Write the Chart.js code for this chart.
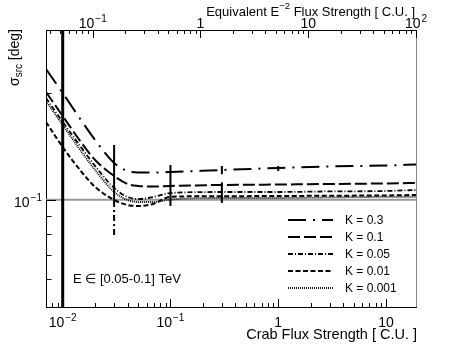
<!DOCTYPE html>
<html>
<head>
<meta charset="utf-8">
<script src="https://cdn.jsdelivr.net/npm/chart.js@4.4.1/dist/chart.umd.min.js"></script>
<style>
  html, body { margin: 0; padding: 0; background: #fff; }
  #wrap { width: 463px; height: 346px; }
</style>
</head>
<body>
<div id="wrap"><canvas id="chart" width="463" height="346"></canvas></div>
<script>
// Crab flux points (C.U.) where sigma_src was evaluated
const crabFlux = [0.007, 0.01, 0.015, 0.02, 0.03, 0.04, 0.05, 0.07, 0.1, 0.3, 1, 3, 10, 19];

// sigma_src [deg] for each systematic factor K
const sigmaK0300 = [0.2331, 0.1996, 0.1665, 0.1472, 0.1269, 0.1205, 0.1194, 0.1194, 0.1197, 0.1213, 0.1229, 0.1241, 0.1249, 0.1257];
const sigmaK0100 = [0.2009, 0.1720, 0.1444, 0.1294, 0.1167, 0.1108, 0.1094, 0.1090, 0.1094, 0.1101, 0.1104, 0.1108, 0.1112, 0.1115];
const sigmaK0050 = [0.1933, 0.1655, 0.1398, 0.1245, 0.1080, 0.1019, 0.1005, 0.1019, 0.1045, 0.1052, 0.1052, 0.1056, 0.1059, 0.1066];
const sigmaK0010 = [0.1655, 0.1407, 0.1197, 0.1087, 0.0999, 0.0967, 0.0961, 0.0975, 0.1020, 0.1024, 0.1025, 0.1027, 0.1029, 0.1032];
const sigmaK0001 = [0.1895, 0.1623, 0.1363, 0.1213, 0.1052, 0.0999, 0.0986, 0.0986, 0.1002, 0.1012, 0.1012, 0.1016, 0.1019, 0.1019];

const seriesLabels = ['K = 0.3', 'K = 0.1', 'K = 0.05', 'K = 0.01', 'K = 0.001'];

// vertical error bars: flux, low, high
const barFlux = [0.01, 0.03, 0.1, 0.3, 0.3, 1];
const barLow  = [0.04, 0.0961, 0.0961, 0.098, 0.118, 0.1205];
const barHigh = [0.40, 0.1426, 0.1253, 0.112, 0.1245, 0.1245];
// dash-dot lower part of the 0.03 bar
const tailFlux = [0.03];
const tailLow  = [0.0797];
const tailHigh = [0.0961];

const refSigma = 0.1;
const bottomLabels = [0.01, 0.1, 1, 10];
const topLabels = [0.1, 1, 10, 100];
const eqFactor = 100 / 19;   // Crab -> equivalent E^-2 flux

const FONT = '"Liberation Sans", Arial, Helvetica, sans-serif';

const styles = [
    { dash: [18, 7, 2, 7], width: 2 },
    { dash: [12, 4], width: 2 },
    { dash: [5, 2, 1, 2], width: 1.8 },
    { dash: [5, 2.5], width: 2 },
    { dash: [1, 1], width: 1.8 }
];

const allSeries = [sigmaK0300, sigmaK0100, sigmaK0050, sigmaK0010, sigmaK0001];

const curveSets = allSeries.map((vals, i) => ({
    label: seriesLabels[i],
    data: crabFlux.map((f, j) => ({ x: f, y: vals[j] })),
    showLine: true,
    borderColor: '#000',
    borderWidth: styles[i].width,
    borderDash: styles[i].dash,
    pointRadius: 0,
    cubicInterpolationMode: 'monotone',
    fill: false
}));

const barSets = barFlux.map((f, i) => ({
    label: 'bar',
    data: [{ x: f, y: barLow[i] }, { x: f, y: barHigh[i] }],
    showLine: true,
    borderColor: '#000',
    borderWidth: i === 0 ? 3 : 2,
    pointRadius: 0
}));

const tailSets = tailFlux.map((f, i) => ({
    label: 'bar',
    data: [{ x: f, y: tailLow[i] }, { x: f, y: tailHigh[i] }],
    showLine: true,
    borderColor: '#000',
    borderWidth: 2,
    borderDash: [6, 3, 2, 3],
    pointRadius: 0
}));

function logTicks(min, max) {
    const out = [];
    for (let e = Math.floor(Math.log10(min)); e <= Math.ceil(Math.log10(max)); e++) {
        for (let m = 1; m <= 9; m++) {
            const v = m * Math.pow(10, e);
            if (v >= min * 0.999 && v <= max * 1.001) out.push({ v, major: m === 1 });
        }
    }
    return out;
}

function powParts(v) {
    const e = Math.round(Math.log10(v));
    if (e === 0) return ['1', ''];
    if (e === 1) return ['10', ''];
    return ['10', e < 0 ? '\u2212' + (-e) : String(e)];
}

// draws base + superscript, align: 'center' | 'right'
function drawPow(ctx, base, sup, x, y, align) {
    ctx.font = '14px ' + FONT;
    const wb = ctx.measureText(base).width;
    ctx.font = '10px ' + FONT;
    const ws = sup ? ctx.measureText(sup).width + 1 : 0;
    const w = wb + ws;
    let x0 = align === 'right' ? x - w : x - w / 2;
    ctx.textAlign = 'left';
    ctx.textBaseline = 'alphabetic';
    ctx.font = '14px ' + FONT;
    ctx.fillText(base, x0, y);
    if (sup) {
        ctx.font = '10px ' + FONT;
        ctx.fillText(sup, x0 + wb + 1, y - 6);
    }
}

const rootAxes = {
    id: 'rootAxes',
    beforeDatasetsDraw(chart) {
        const { ctx, chartArea: a, scales: { y } } = chart;
        const py = y.getPixelForValue(refSigma);
        ctx.save();
        ctx.strokeStyle = '#999';
        ctx.lineWidth = 2;
        ctx.beginPath();
        ctx.moveTo(a.left, py);
        ctx.lineTo(a.right, py);
        ctx.stroke();
        ctx.restore();
    },
    afterDraw(chart) {
        const { ctx, chartArea: a, scales: { x, x2, y } } = chart;
        ctx.save();

        // right frame edge
        ctx.strokeStyle = '#888';
        ctx.lineWidth = 1;
        ctx.beginPath();
        ctx.moveTo(a.right + 0.5, a.top);
        ctx.lineTo(a.right + 0.5, a.bottom);
        ctx.stroke();

        // inward ticks
        ctx.strokeStyle = '#000';
        ctx.beginPath();
        logTicks(x.min, x.max).forEach(t => {
            const px = Math.round(x.getPixelForValue(t.v)) + 0.5;
            ctx.moveTo(px, a.bottom);
            ctx.lineTo(px, a.bottom - (t.major ? 8 : 4));
        });
        logTicks(x2.min, x2.max).forEach(t => {
            const px = Math.round(x2.getPixelForValue(t.v)) + 0.5;
            ctx.moveTo(px, a.top);
            ctx.lineTo(px, a.top + (t.major ? 8 : 4));
        });
        logTicks(y.min, y.max).forEach(t => {
            const py = Math.round(y.getPixelForValue(t.v)) + 0.5;
            ctx.moveTo(a.left, py);
            ctx.lineTo(a.left + (t.major ? 10 : 5.5), py);
        });
        ctx.stroke();

        // tick labels
        ctx.fillStyle = '#000';
        bottomLabels.forEach(v => {
            const [b, s] = powParts(v);
            drawPow(ctx, b, s, x.getPixelForValue(v), a.bottom + 20, 'center');
        });
        topLabels.forEach(v => {
            const [b, s] = powParts(v);
            drawPow(ctx, b, s, x2.getPixelForValue(v), a.top - 2, 'center');
        });
        drawPow(ctx, '10', '\u22121', a.left - 4, y.getPixelForValue(refSigma) + 7, 'right');

        // axis titles
        ctx.font = '14.5px ' + FONT;
        ctx.textAlign = 'right';
        ctx.fillText('Crab Flux Strength [ C.U. ]', a.right + 1, 339);

        const t1 = 'Equivalent E', t2 = '\u22122', t3 = ' Flux Strength [ C.U. ]';
        ctx.font = '13px ' + FONT;
        const w1 = ctx.measureText(t1).width, w3 = ctx.measureText(t3).width;
        ctx.font = '9.5px ' + FONT;
        const w2 = ctx.measureText(t2).width;
        let tx = a.right - 1 - (w1 + w2 + w3);
        ctx.textAlign = 'left';
        ctx.font = '13px ' + FONT;
        ctx.fillText(t1, tx, 15.5);
        ctx.font = '9.5px ' + FONT;
        ctx.fillText(t2, tx + w1, 9);
        ctx.font = '13px ' + FONT;
        ctx.fillText(t3, tx + w1 + w2, 15.5);

        // y title, rotated
        ctx.save();
        ctx.translate(19, 29);
        ctx.rotate(-Math.PI / 2);
        ctx.font = '14px ' + FONT;
        const ws = ctx.measureText('\u03c3').width;
        const wd = ctx.measureText(' [deg]').width;
        ctx.font = '10px ' + FONT;
        const wr = ctx.measureText('src').width;
        let sx = -(ws + wr + wd);
        ctx.textAlign = 'left';
        ctx.font = '14px ' + FONT;
        ctx.fillText('\u03c3', sx, 0);
        ctx.font = '10px ' + FONT;
        ctx.fillText('src', sx + ws, 3);
        ctx.font = '14px ' + FONT;
        ctx.fillText(' [deg]', sx + ws + wr, 0);
        ctx.restore();

        // legend
        const rows = [220, 237, 254, 271, 288];
        chart.data.datasets.slice(0, seriesLabels.length).forEach((ds, i) => {
            ctx.save();
            ctx.strokeStyle = ds.borderColor;
            ctx.lineWidth = ds.borderWidth;
            ctx.setLineDash(ds.borderDash);
            ctx.beginPath();
            ctx.moveTo(288, rows[i]);
            ctx.lineTo(333, rows[i]);
            ctx.stroke();
            ctx.restore();
            ctx.font = '12px ' + FONT;
            ctx.textAlign = 'left';
            ctx.textBaseline = 'middle';
            ctx.fillText(ds.label, 345, rows[i] + 1);
        });

        // energy band note
        ctx.font = '13px ' + FONT;
        ctx.textBaseline = 'alphabetic';
        ctx.fillText('E \u2208 [0.05-0.1] TeV', 73, 283);
        ctx.restore();
    }
};

const hiddenAxis = {
    type: 'logarithmic',
    ticks: { display: false },
    grid: { display: false, drawTicks: false },
    border: { display: true, color: '#000', width: 1 }
};

new Chart(document.getElementById('chart'), {
    type: 'scatter',
    data: { datasets: [...curveSets, ...barSets, ...tailSets] },
    options: {
        responsive: false,
        animation: false,
        devicePixelRatio: 1,
        layout: { padding: { left: 46, right: 47, top: 30, bottom: 39 } },
        plugins: { legend: { display: false }, tooltip: { enabled: false } },
        scales: {
            x: { ...hiddenAxis, position: 'bottom', min: 0.007, max: 19, afterFit: s => { s.height = 0; } },
            x2: { ...hiddenAxis, position: 'top', min: 0.007 * eqFactor, max: 19 * eqFactor, afterFit: s => { s.height = 0; } },
            y: { ...hiddenAxis, position: 'left', min: 0.05, max: 0.3, afterFit: s => { s.width = 0; } }
        }
    },
    plugins: [rootAxes]
});
</script>
</body>
</html>
